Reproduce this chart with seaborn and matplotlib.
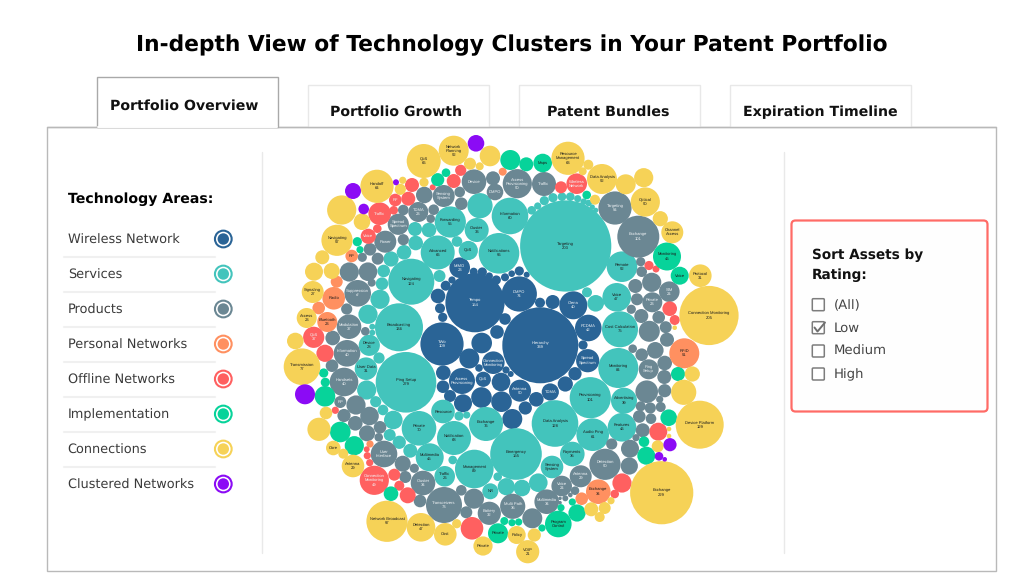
import numpy as np
import pandas as pd
import seaborn as sns
import matplotlib.pyplot as plt
from matplotlib.patches import Rectangle, FancyBboxPatch

# chart values: bubbles are (x, y, radius), labelled ones first
area_names = ["Wireless Network", "Services", "Products", "Personal Networks",
              "Offline Networks", "Implementation", "Connections", "Clustered Networks"]
area_colors = ["#2a6496", "#43c4bc", "#6b8793", "#ff9060", "#ff6060", "#07d39a", "#f6d257", "#8b0bf5"]
tab_names = ["Portfolio Overview", "Portfolio Growth", "Patent Bundles", "Expiration Timeline"]
rating_names = ["(All)", "Low", "Medium", "High"]

wireless_labels = ["Hierarchy\n339", "Tempo\n154", "TWo\n109", "DMPO\n74", "Ciena\n40", "PCDMA\n42",
                   "Spread\nSpectrum", "Connection\nMonitoring", "Access\nProvisioning", "QoS",
                   "Antenna\n50", "TDMA", "MIMO\n23"]
wireless = [(540.3,345.3,37.7),(475,302.7,29.3),(442,344,21.3),(519.3,294,17.3),(573.3,305.3,13.7),
            (588.3,328,13),(587.7,360.7,11.3),(493.3,362.7,11),(462,381,12.7),(483.3,379.3,7.3),
            (520,390.7,10.7),(550.3,392,8.3),(459.7,267.7,10),
            (473.7,271.7,3.7),(482.3,272,4.3),(489.3,276,3.3),(496.3,280,4.3),(505,277.3,3.7),
            (511.7,273.7,3),(519.3,271,4.3),(526.7,274.7,2.7),(540,302.7,4.7),(552.7,302,6.7),
            (583,345,4.3),(575,373.7,6.3),(565.3,384,7.3),(536.3,399.3,7),(525.3,408,6.3),
            (512.3,419,9.7),(452,280,3.3),(445.7,285.7,4.7),(438,296,7),(440,308.3,4.7),
            (442.7,317.3,4.3),(505,319,5.5),(497,332,6.5),(481.7,343,10),(469.3,358.5,9.7),
            (479,368,3.5),(506,370,3.3),(510.7,374,2.7),(443.3,372.7,7),(443,386.7,6),
            (450,396,5.7),(463,403.3,8.7),(481.5,397.5,10),(501.5,401.7,10),(501,382,9)]

services_labels = ["Targeting\n203", "Ping Setup\n279", "Emergency\n155", "Broadcasting\n136", "Navigating\n124",
                   "Data Analysis\n128", "Provisioning\n101", "Notifications\n96", "Monitoring\n84",
                   "Management\n89", "Cost Calculation\n75", "Information\n60", "Private\n70", "Exchange\n76",
                   "Notification\n68", "Advanced\n66", "Forwarding\n55", "Remote\n52", "Audio Ping\n61",
                   "Voice\n47", "Features\n46", "Multimedia\n45", "Advertising\n39", "Payments\n35",
                   "Cluster\n33", "QoS", "Device\n28", "User Data\n31", "Traffic\n26", "Resource",
                   "Sensing\nSystem", "NR"]
services = [(565.7,246,45.3),(406,382.3,30),(516,454,25.5),(399,327.3,23.7),(411.3,281.7,22.7),
            (555,423.5,23),(590.3,397.7,20.3),(499,253.3,20),(618.3,368,19.7),(474.3,469,19),
            (620,329.3,17.7),(510,216,18),(419,428.3,17),(486,424,16.7),(454,438,16.7),
            (437.7,252.5,16.7),(450.3,222,15.3),(622,266.7,15),(592.7,434.7,16),(616.7,297.3,14),
            (622,427.3,14),(429.7,457.3,13.7),(624,400.7,12.7),(572.3,454,12),(476.7,230,11.7),
            (468.3,250.5,9.3),(369.3,345.3,10.3),(366,368.7,11),(444.7,476.3,10),(443,411.5,11.5),
            (552,467,11),(490.3,491.3,7.7),
            (480,205.7,12.3),(415,229,6.7),(429,230,7),(415.7,243,7),(457,241.5,5),(404,252.3,7),
            (391,259,7.3),(383.7,271,6),(382,283.7,6),(380,299.3,9.3),(368,314.3,9.3),
            (372.3,326.7,2.7),(372.3,332.7,2.7),(379,358,5.3),(366.7,390,9.3),(375.7,401.7,5.3),
            (383,410,5),(393.3,420,9),(439.5,276,5.7),(459,416,4.3),(466.7,415,3.3),(389.7,435,5.7),
            (399.3,442.3,6.3),(410.3,450.7,6.7),(452.7,460,4),(497.7,476.7,4),(506.3,486.7,8.3),
            (522,488,8),(538.3,482.7,9),(595.7,303.3,8),(587,292.3,4.7),
            (531.7,210.3,4),(537.7,206,3.3),(544.3,200.7,4.3),(553,197.7,4.3),(562,196.7,4),
            (570.3,196.7,4),(577.7,198.7,3.3),(583.7,201.7,3),(588.7,203,3),(592.3,207,2.3),(595.7,210.3,2.3)]

products_labels = ["Device", "DMPO", "Access\nProvisioning\n50", "Traffic", "Sensing\nSystem", "TDMA\n23",
                   "Spread\nSpectrum", "Power", "Targeting\n54", "Exchange\n101", "Suppression\nof",
                   "Modulation\n37", "Information\n40", "Handsets\n40", "RP", "User\nInterface", "Cluster\n34",
                   "Transceivers\n73", "Battery\n32", "Multi Path\n35", "Multimedia\n34", "Voice\n24",
                   "Antenna\n29", "Detection\n50", "Ping\nSetup", "Private\n23", "SIM\n24"]
products = [(474,181.7,12),(495,192,8),(517.3,183.7,14.3),(544,184,11.7),(443.7,196,10.7),(418.3,212,9.7),
            (398.3,224.3,10.3),(385.3,241.7,10.7),(615,208,16.3),(638.3,236.7,20.7),(357.7,293.3,13),
            (349,326.7,12),(347,353.3,13),(344,382,14),(340.3,402,5.7),(384,454,13),(423,483,12),
            (444,505,17.7),(489.3,513.3,11.3),(512.7,506.3,12.3),(546.7,501.7,12),(561.7,486,10),
            (580.7,476.3,10.7),(605,464.3,15.3),(648.7,369.3,9.7),(652.3,302.3,9.7),(669.3,291.7,10),
            (493,178.3,6.7),(424.3,195,8),(459.7,192,5),(461.3,203.7,6),(403.3,210,5),(433.7,209.7,5),
            (430.7,218.7,4),(403.3,239.7,5.3),(370,249.3,6),(362.3,257.3,4.3),(377.7,258.7,5.7),
            (349.3,272,9.3),(368,271.7,9),(371.7,282.7,3.7),(346.7,309,5.3),(365.3,331.3,4),
            (332.7,338,7),(332,365.7,6),(356,405,9.3),(344,415.5,6.3),(369.5,416,9),(355.3,423.3,7),
            (380,427.3,6),(367,433.3,7.7),(378.7,437.3,4),(402.7,463.7,7.7),(414.3,468.3,4.3),
            (405.3,477,5.7),(420,501,6),(461.3,490.3,5),(474,498.7,9.7),(466.3,512.3,5.7),
            (532.3,518.3,9.7),(640.7,261.7,4.3),(641.7,271.7,5),(651.7,282.3,9.3),(635.3,286,6.7),
            (637,299.3,5.7),(631.3,309.3,4.3),(641.3,316,6.7),(658.7,317.3,6),(649.3,331.3,10.2),
            (665.7,327.2,5.7),(667,339.7,6.7),(632.7,348.7,4),(641.7,354.7,6),(655.3,350.3,8),
            (664.7,363,7),(664.3,377,6.7),(646.7,391.7,11),(664.7,390.7,6.3),(659.7,399.3,3.3),
            (640.7,406.3,4.7),(650.3,408,5.3),(660.7,407,4.7),(639.3,416.5,6),(651,418.7,5),
            (642.7,430.3,6.7),(636,437.7,3.3),(611.7,444,5.3),(630,448.7,8.7),(629.3,466,8.3),
            (575,490.7,4),(570.3,495,2),(565.3,498.3,2.7),(560,498.3,1.5),(560,502.7,1.5)]

personal_labels = ["Radio", "Bluetooth\n23", "RP", "RFID\n51", "Exchange\n34"]
personal = [(333.7,298.3,11),(327.3,322,9.7),(351.7,256,6),(684.3,353.3,14.7),(598.3,491.7,12),
            (336.7,281.7,5.7),(318.7,308,6),(502.7,171.7,3.7),(370,444,3.3),(581.7,498.7,6)]

offline_labels = ["Wireless\nNetwork", "RF", "Traffic", "Voice", "QoS\n37", "Connection\nMonitoring\n49"]
offline = [(576.7,183.7,10),(395.3,200,6),(379.7,213.7,11),(368.3,236.3,7.3),(313.7,337.3,10.3),(374.3,480.3,14.3),
           (460.7,170.3,5.3),(453.7,181,6.7),(412,185,6.7),(432.7,187.3,2.7),(408.3,198.7,6.7),
           (393.7,210.3,4),(377.3,228.7,4),(325,353.3,8.3),(335.3,410.3,3.3),(366.7,449.3,2.7),
           (367.3,455.7,3.3),(369.7,462.7,3.3),(394.3,474.7,5.7),(399.3,485.7,4.7),(407.7,495.3,7.7),
           (472,528.3,11),(561,187.3,5.7),(649,265.5,4.3),(656,269,3.2),(669.7,308.7,7),
           (674.7,320,4.7),(658.3,431.7,8.7),(622,483,9.3),(614.7,494,4)]

implementation_labels = ["Maps", "Monitoring\n45", "Voice", "Private", "Program\nControl"]
implementation = [(542.7,163,9),(667,256.5,13.7),(679.7,275.7,8.7),(498,533.3,9.7),(558.3,524,13),
                  (510.3,160,9.7),(526.3,164.3,6.7),(446,172.7,4),(437.7,179.7,6.3),(586.7,195,4),
                  (357.3,241.7,4.3),(360,249.7,3.3),(323.7,373,4.3),(325.3,382.3,4.3),(325,396.3,10),
                  (340.3,432,10),(354.3,445.7,9.3),(391,493.7,7),(504.3,521,3.7),(512,522.7,3.3),
                  (518.7,522,3.3),(542,528,3.3),(561,507.7,3.3),(572.3,502,3.3),(577,513,8.3),
                  (646.3,455.7,8.7),(644,441.7,5),(668.7,417.7,8),(678,374,6.7)]

connections_labels = ["QoS\n66", "Network\nPlanning\n52", "Handoff\n64", "Navigating\n57", "Signaling\n27",
                      "Access\n23", "Transmission\n77", "Core", "Antenna\n29", "Network Broadcast\n97",
                      "Detection\n47", "Cost", "Private", "Policy", "VOIP\n21", "Exchange\n229",
                      "Device Platform\n129", "Connection Monitoring\n205", "Protocol\n31", "Channel\nAccess",
                      "Optical\n50", "Data Analysis\n52", "Resource\nManagement\n63"]
connections = [(423.7,161,16.7),(453.7,150.7,14.7),(377,186.3,16.3),(337,240.3,15.3),(312.7,292,10.7),
               (306.7,318,9.7),(302,366.7,18),(333.3,448,7),(353,466,11),(387,521.3,20.3),(421,527.3,14),
               (445.3,534.3,11),(483,546,9.3),(516.7,535,8.7),(527.7,551.7,11.3),(661.7,492.7,31.3),
               (699.7,424.7,23.7),(709,315.5,29.3),(700.3,275.7,11),(672.3,232.3,10.7),(645.3,202,14.3),
               (602,179,14.7),(568,158.3,16.3),
               (490,156,10),(470,163.7,5.7),(479.7,166.3,3.7),(424,182.3,4.3),(402.7,180.3,3.3),
               (400.3,189.3,5.3),(341.7,210,14.3),(362,221.7,8),(322.3,257.3,6.7),(314,271.7,8.7),
               (331.7,271,7.7),(295.3,341,8),(326,413,6),(319,429.3,11.3),(343.3,453.7,4.7),
               (456.7,523.7,4.3),(534.3,535,6.3),(591.3,509.3,6.7),(604.7,508,5.7),(599.7,517,4.7),
               (611,500.7,3.3),(588.3,164.7,4.7),(582.7,171.3,3.7),(625.7,184.3,9.7),(643.7,177.7,9.3),
               (595,199.7,4.7),(660.3,218.7,7.3),(674.7,327.7,2),(692.3,374,7.3),(683.7,392.3,12.3),
               (657.7,446.3,5.7),(669,429,2),(669,436,2)]

clustered_labels = []
clustered = [(476,143.3,8),(396,182.3,2.7),(353,191,7.7),(363.7,209,5),(305,394.3,9.7),
             (670,444.7,6.3),(659,456.3,4),(664.7,459.3,2)]

all_bubbles = [wireless, services, products, personal, offline, implementation, connections, clustered]
all_labels = [wireless_labels, services_labels, products_labels, personal_labels, offline_labels,
              implementation_labels, connections_labels, clustered_labels]
light_text = ["Wireless Network", "Products", "Offline Networks"]

DPI = 100
HEAD_FONT = "DejaVu Sans"
BODY_FONT = "DejaVu Sans"
BUBBLE_FONT = "Liberation Sans"

sns.set_theme(style="white")
plt.rcParams["font.family"] = ["DejaVu Sans"]
plt.rcParams["text.hinting"] = "no_hinting"  # tiny bubble labels get far too wide otherwise

fig = plt.figure(figsize=(10.24, 5.76), dpi=DPI)
ax = fig.add_axes([0, 0, 1, 1])
ax.set_xlim(0, 1024)
ax.set_ylim(576, 0)
rend = fig.canvas.get_renderer()


def fit_size(s, width, family, weight="normal"):
    # font size that makes the string the given number of pixels wide when drawn
    t = ax.text(0, 0, s, fontsize=10, family=family, weight=weight)
    size = 10.0
    for _ in range(3):
        size = size * width / t.get_window_extent(rend).width
        t.set_fontsize(size)
    t.remove()
    return size


rows = []
for name, group in zip(area_names, all_bubbles):
    for x, y, r in group:
        rows.append({"x": x, "y": y, "r": r + 0.3, "area_name": name})
df = pd.DataFrame(rows)
df["r2"] = df["r"] ** 2

# s is in points^2: (2 r 72/dpi)^2
k = (2 * 72 / DPI) ** 2
rmax = df["r2"].max()
sns.scatterplot(data=df, x="x", y="y", hue="area_name", hue_order=area_names,
                palette=dict(zip(area_names, area_colors)), size="r2",
                sizes=(0, k * rmax), size_norm=(0, rmax), linewidth=0, legend=False,
                ax=ax, zorder=2)

for name, group, labels in zip(area_names, all_bubbles, all_labels):
    col = "#f2f5f7" if name in light_text else "#1c1c1c"
    for (x, y, r), lab in zip(group, labels):
        ax.text(x, y, lab, ha="center", va="center", fontsize=3.0, color=col,
                family=BUBBLE_FONT, linespacing=1.15, zorder=4)

# panel and tabs
panel = Rectangle((47, 127), 949, 444, fc="white", ec="#b9b9b9", lw=1, zorder=0)
ax.add_patch(panel)
for x0 in [308, 519, 730]:
    ax.add_patch(Rectangle((x0, 85), 181, 42, fc="white", ec="#e8e8e8", lw=1, zorder=0.5))
ax.plot([47, 996], [127, 127], color="#b9b9b9", lw=1, zorder=0.6)
ax.add_patch(Rectangle((97, 77), 181, 50, fc="white", ec="#a9a9a9", lw=1, zorder=0.7))
ax.plot([98, 277], [127, 127], color="white", lw=1.4, zorder=0.8)
for xv in [262, 784]:
    ax.plot([xv, xv], [152, 553], color="#e9e9e9", lw=1, zorder=0.5)

title = "In-depth View of Technology Clusters in Your Patent Portfolio"
ax.text(136, 51.7, title, color="black", fontsize=fit_size(title, 752, HEAD_FONT, "bold"),
        family=HEAD_FONT, weight="bold", va="baseline")

tab_spans = [(110.5, 149, 109.3), (330, 132, 116), (547, 122, 116), (743, 154, 116)]
for name, (x0, w, base) in zip(tab_names, tab_spans):
    ax.text(x0, base, name, fontsize=fit_size(name, w, HEAD_FONT, "bold"), family=HEAD_FONT,
            weight="bold", va="baseline", color="#111111")

# legend on the left
ax.text(68.3, 202.7, "Technology Areas:", fontsize=fit_size("Technology Areas:", 146, HEAD_FONT, "bold"),
        family=HEAD_FONT, weight="bold", va="baseline", color="black")
legend_size = fit_size("Clustered Networks", 126, BODY_FONT)
legend_y = np.arange(len(area_names)) * 35 + 239
for i, (name, y) in enumerate(zip(area_names, legend_y)):
    ax.text(67.7, y + 4.4, name, fontsize=legend_size, family=BODY_FONT, va="baseline", color="#3a3a3a")
    if i < len(area_names) - 1:
        ax.plot([64, 215], [y + 18, y + 18], color="#f0f0f0", lw=1.5, zorder=0.5)

legend_df = pd.DataFrame({"x": 223.3, "y": legend_y, "area_name": area_names})
for rad, pal, z in [(9.4, area_colors, 2), (7.3, ["white"] * 8, 2.1), (5.7, area_colors, 2.2)]:
    sns.scatterplot(data=legend_df, x="x", y="y", hue="area_name", hue_order=area_names,
                    palette=dict(zip(area_names, pal)), s=k * rad ** 2, linewidth=0,
                    legend=False, ax=ax, zorder=z)

# rating filter box on the right
ax.add_patch(FancyBboxPatch((791.5, 220.5), 196, 191, boxstyle="round,pad=0,rounding_size=4",
                            fc="#fefefe", ec="#ff6b66", lw=1.6, zorder=1))
head_size = fit_size("Sort Assets by", 112, HEAD_FONT, "bold")
ax.text(811.5, 259, "Sort Assets by", fontsize=head_size, family=HEAD_FONT, weight="bold", va="baseline", color="#111111")
ax.text(811.5, 279, "Rating:", fontsize=head_size, family=HEAD_FONT, weight="bold", va="baseline", color="#111111")
rate_y = [304.7, 327.7, 351, 374]
rate_size = fit_size("Medium", 53, BODY_FONT)
for name, y in zip(rating_names, rate_y):
    ax.add_patch(FancyBboxPatch((812.3, y - 6), 12, 12, boxstyle="round,pad=0,rounding_size=1",
                                fc="white", ec="#7d7d7d", lw=1.1, zorder=2))
    ax.text(833.5, y + 4.2, name, fontsize=rate_size, family=BODY_FONT, va="baseline", color="#444444", zorder=3)
ax.plot([814.5, 817.5, 825], [327.5, 331.5, 322.5], color="#6f6f6f", lw=1.4, zorder=3)

ax.set_xlim(0, 1024)
ax.set_ylim(576, 0)
ax.set_axis_off()

fig.savefig("out.png", dpi=DPI, facecolor="white")
